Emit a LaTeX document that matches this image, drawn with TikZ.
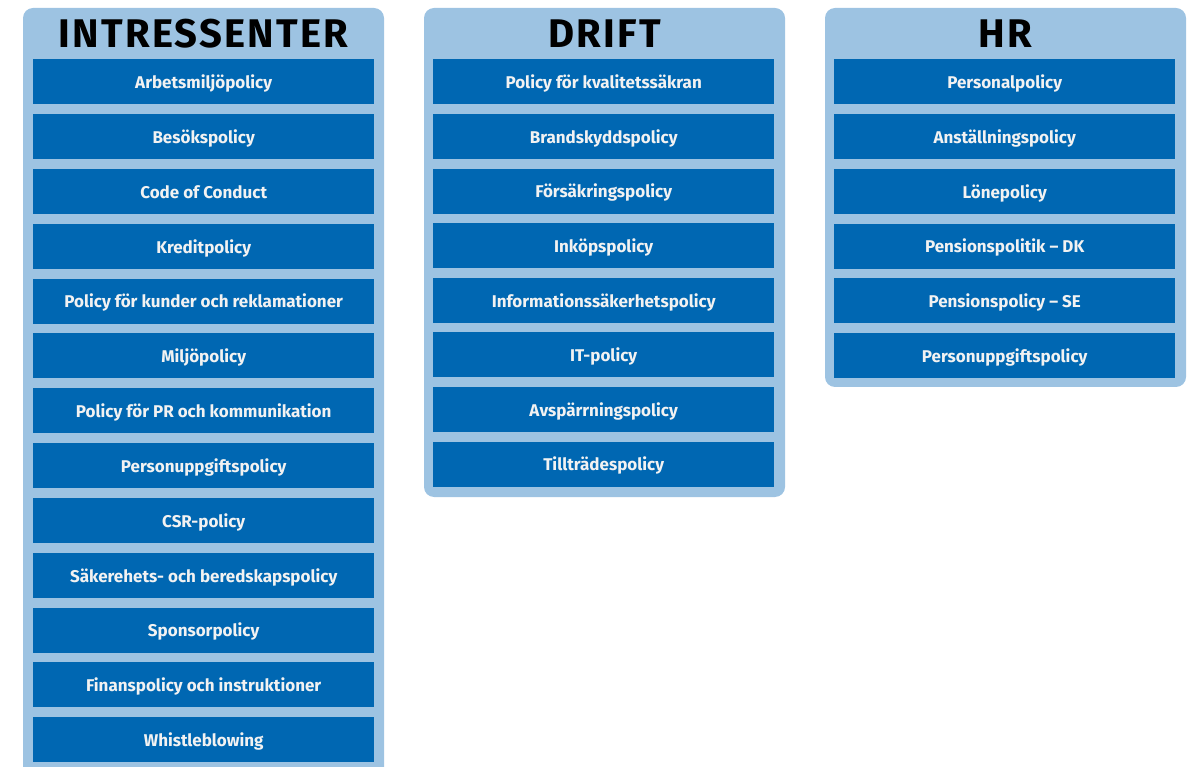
\documentclass[tikz,border=0pt]{standalone}
\usepackage{fontspec}
\setmainfont{Fira Sans}
\definecolor{panelblue}{RGB}{157,195,226}
\definecolor{boxblue}{RGB}{0,103,178}
\definecolor{txtwhite}{RGB}{242,242,242}
\begin{document}
\begin{tikzpicture}[x=1pt,y=-1pt,
  panelbox/.style={fill=panelblue, rounded corners=10pt},
  policy/.style={fill=boxblue, minimum width=341pt, minimum height=45pt, inner sep=0pt, anchor=north west},
  ptext/.style={text=txtwhite, font=\bfseries\fontsize{17}{17}\selectfont, anchor=base, inner sep=0pt},
  titletext/.style={font=\bfseries\fontsize{40}{40}\selectfont\addfontfeatures{LetterSpace=5.5}, anchor=base, inner sep=0pt}]
\useasboundingbox (0,0) rectangle (1195,767);
% panels
\path[panelbox] (23,8) rectangle (384,800);
\path[panelbox] (424,8) rectangle (785,497);
\path[panelbox] (825,8) rectangle (1186,387);
\coordinate (pA) at (203.5,48);
\coordinate (pB) at (604.5,48);
\coordinate (pC) at (1005.5,48);
\node[titletext] (tA) at (pA) {INTRESSENTER};
\node[titletext] (tB) at (pB) {DRIFT};
\node[titletext] (tC) at (pC) {HR};
% column 1
\foreach \t [count=\i from 0] in {Arbetsmiljöpolicy,Besökspolicy,Code of Conduct,Kreditpolicy,Policy för kunder och reklamationer,Miljöpolicy,Policy för PR och kommunikation,Personuppgiftspolicy,CSR-policy,Säkerehets- och beredskapspolicy,Sponsorpolicy,Finanspolicy och instruktioner,Whistleblowing}{
  \node[policy] (a\i) at (33,59.3+54.8*\i) {};
  \path (a\i.north) ++(0,29.5) node[ptext] {\t};
}
% column 2
\foreach \t [count=\i from 0] in {Policy för kvalitetssäkran,Brandskyddspolicy,Försäkringspolicy,Inköpspolicy,Informationssäkerhetspolicy,IT-policy,Avspärrningspolicy,Tillträdespolicy}{
  \node[policy] (b\i) at (433,59.3+54.6*\i) {};
  \path (b\i.north) ++(0,29.5) node[ptext] {\t};
}
% column 3
\foreach \t [count=\i from 0] in {Personalpolicy,Anställningspolicy,Lönepolicy,Pensionspolitik – DK,Pensionspolicy – SE,Personuppgiftspolicy}{
  \node[policy] (c\i) at (834,59.3+54.7*\i) {};
  \path (c\i.north) ++(0,29.5) node[ptext] {\t};
}
\end{tikzpicture}
\end{document}
